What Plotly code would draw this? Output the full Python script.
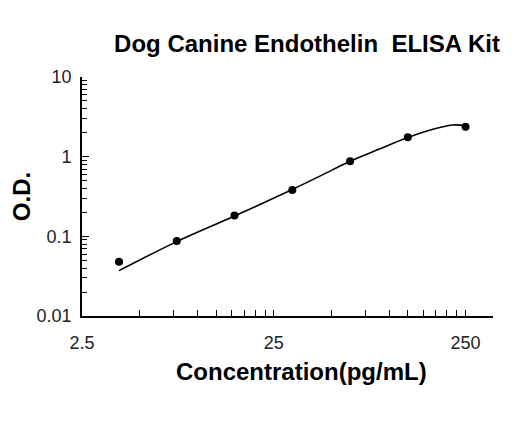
import plotly.graph_objects as go

# standards (pg/mL) and measured O.D.
conc = [3.9, 7.8, 15.6, 31.25, 62.5, 125, 250]
od = [0.048, 0.0875, 0.182, 0.382, 0.875, 1.75, 2.38]

# fitted curve
curve_x = [3.9, 7.8, 15.4, 31.25, 44.0, 62.5, 88.2, 125, 176.7, 215.4, 250]
curve_y = [0.0371, 0.0858, 0.177, 0.388, 0.578, 0.876, 1.238, 1.74, 2.27, 2.50, 2.46]

x_major = [2.5, 25, 250]
x_labels = ["2.5", "25", "250"]
x_minor = [5, 7.5, 10, 12.5, 15, 17.5, 20, 22.5,
           50, 75, 100, 125, 150, 175, 200, 225]
y_major = [0.01, 0.1, 1, 10]
y_labels = ["0.01", "0.1", "1", "10"]
y_minor = [m * d for d in [0.01, 0.1, 1] for m in range(2, 10)]

tickfont = dict(family="Liberation Sans, Arial", size=18, color="#222")
boldfont = dict(family="Liberation Sans, Arial", size=24, color="black")

fig = go.Figure()
fig.add_trace(go.Scatter(x=curve_x, y=curve_y, mode="lines",
                         line=dict(color="black", width=1.6, shape="spline"),
                         showlegend=False, hoverinfo="skip"))
fig.add_trace(go.Scatter(x=conc, y=od, mode="markers",
                         marker=dict(color="black", size=8),
                         showlegend=False))

# x title sits a bit right of the plot centre in the original
fig.add_annotation(text="<b>Concentration(pg/mL)</b>", font=boldfont,
                   xref="paper", yref="paper", x=0.533, y=-0.234,
                   xanchor="center", yanchor="middle", showarrow=False)

fig.update_layout(
    width=520, height=421,
    margin=dict(l=74, r=35, t=69, b=113),
    paper_bgcolor="white", plot_bgcolor="white",
    title=dict(text="<b>Dog Canine Endothelin  ELISA Kit</b>", font=boldfont,
               xref="container", yref="container", x=299 / 520, xanchor="center",
               y=1 - 36 / 421, yanchor="middle"),
    xaxis=dict(type="log", range=[0.398, 2.541], automargin=False,
               tickmode="array", tickvals=x_major, ticktext=x_labels,
               ticks="inside", ticklen=6, tickwidth=1.3, tickcolor="black",
               minor=dict(tickmode="array", tickvals=x_minor, ticks="inside",
                          ticklen=6, tickwidth=1.3, tickcolor="black", showgrid=False),
               showline=True, linecolor="black", linewidth=1.6,
               showgrid=False, zeroline=False, tickfont=tickfont,
               ticklabelstandoff=10),
    yaxis=dict(type="log", range=[-2, 1], automargin=False,
               tickmode="array", tickvals=y_major, ticktext=y_labels,
               ticks="inside", ticklen=7, tickwidth=1.3, tickcolor="black",
               minor=dict(tickmode="array", tickvals=y_minor, ticks="inside",
                          ticklen=5, tickwidth=1.3, tickcolor="black", showgrid=False),
               showline=True, linecolor="black", linewidth=1.6,
               showgrid=False, zeroline=False, tickfont=tickfont,
               ticklabelstandoff=5,
               title=dict(text="<b>O.D.</b>", font=boldfont, standoff=9)),
)

fig.write_html("out.html")
